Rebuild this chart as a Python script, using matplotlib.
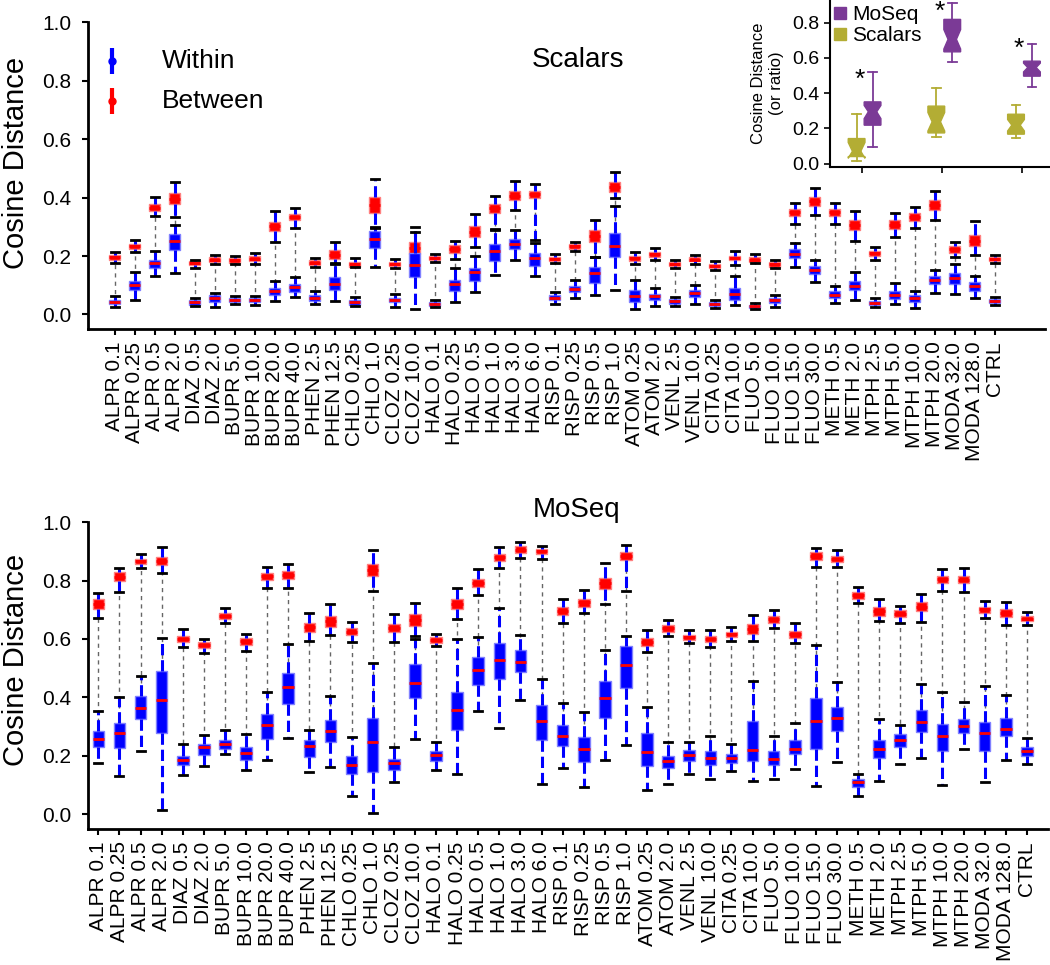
import matplotlib
matplotlib.use("Agg")
import matplotlib.pyplot as plt
from matplotlib.lines import Line2D

plt.rcParams['font.family'] = ['Liberation Sans', 'DejaVu Sans']

categories = [
    "ALPR 0.1", "ALPR 0.25", "ALPR 0.5", "ALPR 2.0", "DIAZ 0.5", "DIAZ 2.0",
    "BUPR 5.0", "BUPR 10.0", "BUPR 20.0", "BUPR 40.0", "PHEN 2.5", "PHEN 12.5",
    "CHLO 0.25", "CHLO 1.0", "CLOZ 0.25", "CLOZ 10.0", "HALO 0.1", "HALO 0.25",
    "HALO 0.5", "HALO 1.0", "HALO 3.0", "HALO 6.0", "RISP 0.1", "RISP 0.25",
    "RISP 0.5", "RISP 1.0", "ATOM 0.25", "ATOM 2.0", "VENL 2.5", "VENL 10.0",
    "CITA 0.25", "CITA 10.0", "FLUO 5.0", "FLUO 10.0", "FLUO 15.0", "FLUO 30.0",
    "METH 0.5", "METH 2.0", "MTPH 2.5", "MTPH 5.0", "MTPH 10.0", "MTPH 20.0",
    "MODA 32.0", "MODA 128.0", "CTRL",
]

# five-number summaries per category: (whisker low, q1, median, q3, whisker high)
scalars_within = [
    (0.027, 0.035, 0.043, 0.051, 0.062), (0.050, 0.084, 0.102, 0.116, 0.145),
    (0.132, 0.160, 0.176, 0.187, 0.216), (0.142, 0.219, 0.253, 0.276, 0.307),
    (0.029, 0.034, 0.041, 0.048, 0.056), (0.027, 0.042, 0.055, 0.067, 0.074),
    (0.037, 0.042, 0.050, 0.057, 0.063), (0.034, 0.041, 0.048, 0.057, 0.062),
    (0.045, 0.068, 0.081, 0.092, 0.113), (0.059, 0.076, 0.094, 0.105, 0.127),
    (0.037, 0.046, 0.056, 0.066, 0.080), (0.046, 0.084, 0.105, 0.128, 0.176),
    (0.029, 0.034, 0.042, 0.050, 0.059), (0.164, 0.228, 0.257, 0.284, 0.295),
    (0.027, 0.041, 0.050, 0.057, 0.071), (0.019, 0.128, 0.170, 0.210, 0.282),
    (0.025, 0.029, 0.037, 0.042, 0.048), (0.042, 0.080, 0.103, 0.119, 0.160),
    (0.078, 0.116, 0.145, 0.160, 0.199), (0.136, 0.182, 0.217, 0.242, 0.290),
    (0.187, 0.225, 0.241, 0.259, 0.288), (0.130, 0.166, 0.193, 0.211, 0.244),
    (0.037, 0.050, 0.058, 0.066, 0.078), (0.056, 0.076, 0.088, 0.099, 0.118),
    (0.068, 0.107, 0.142, 0.162, 0.196), (0.084, 0.196, 0.234, 0.279, 0.370),
    (0.018, 0.042, 0.063, 0.082, 0.118), (0.030, 0.048, 0.062, 0.071, 0.091),
    (0.029, 0.037, 0.045, 0.053, 0.061), (0.037, 0.059, 0.074, 0.084, 0.102),
    (0.023, 0.029, 0.037, 0.042, 0.048), (0.032, 0.050, 0.071, 0.091, 0.132),
    (0.018, 0.022, 0.029, 0.034, 0.039), (0.027, 0.039, 0.048, 0.056, 0.068),
    (0.162, 0.194, 0.208, 0.223, 0.245), (0.112, 0.137, 0.151, 0.167, 0.187),
    (0.040, 0.057, 0.068, 0.081, 0.097), (0.051, 0.082, 0.098, 0.114, 0.145),
    (0.027, 0.033, 0.040, 0.047, 0.055), (0.037, 0.054, 0.068, 0.081, 0.107),
    (0.021, 0.043, 0.056, 0.068, 0.080), (0.075, 0.103, 0.118, 0.132, 0.151),
    (0.071, 0.103, 0.126, 0.142, 0.174), (0.055, 0.080, 0.097, 0.110, 0.132),
    (0.033, 0.039, 0.046, 0.054, 0.059),
]
scalars_between = [
    (0.176, 0.185, 0.195, 0.204, 0.213), (0.212, 0.224, 0.233, 0.242, 0.256),
    (0.338, 0.354, 0.365, 0.378, 0.402), (0.333, 0.377, 0.394, 0.416, 0.452),
    (0.160, 0.168, 0.176, 0.183, 0.188), (0.172, 0.180, 0.188, 0.196, 0.204),
    (0.171, 0.176, 0.185, 0.193, 0.200), (0.171, 0.182, 0.190, 0.199, 0.210),
    (0.249, 0.285, 0.301, 0.316, 0.354), (0.295, 0.322, 0.333, 0.345, 0.365),
    (0.164, 0.169, 0.177, 0.185, 0.192), (0.174, 0.191, 0.205, 0.219, 0.247),
    (0.162, 0.164, 0.174, 0.180, 0.193), (0.300, 0.348, 0.375, 0.402, 0.463),
    (0.160, 0.167, 0.174, 0.180, 0.190), (0.190, 0.208, 0.228, 0.248, 0.299),
    (0.178, 0.185, 0.193, 0.200, 0.208), (0.191, 0.211, 0.225, 0.239, 0.253),
    (0.231, 0.265, 0.283, 0.301, 0.345), (0.291, 0.347, 0.363, 0.379, 0.405),
    (0.358, 0.390, 0.406, 0.422, 0.457), (0.256, 0.397, 0.411, 0.424, 0.447),
    (0.176, 0.183, 0.191, 0.197, 0.208), (0.217, 0.225, 0.233, 0.240, 0.247),
    (0.196, 0.247, 0.267, 0.288, 0.322), (0.397, 0.419, 0.436, 0.452, 0.489),
    (0.171, 0.183, 0.192, 0.201, 0.215), (0.186, 0.197, 0.207, 0.215, 0.229),
    (0.160, 0.166, 0.173, 0.180, 0.187), (0.174, 0.182, 0.188, 0.195, 0.204),
    (0.151, 0.159, 0.167, 0.174, 0.183), (0.169, 0.185, 0.193, 0.201, 0.217),
    (0.176, 0.180, 0.187, 0.195, 0.208), (0.160, 0.164, 0.172, 0.179, 0.185),
    (0.308, 0.336, 0.349, 0.362, 0.381), (0.339, 0.371, 0.387, 0.402, 0.434),
    (0.311, 0.336, 0.349, 0.362, 0.382), (0.253, 0.290, 0.306, 0.322, 0.353),
    (0.187, 0.199, 0.209, 0.218, 0.232), (0.265, 0.292, 0.307, 0.322, 0.348),
    (0.295, 0.321, 0.334, 0.348, 0.368), (0.324, 0.356, 0.373, 0.390, 0.424),
    (0.196, 0.211, 0.223, 0.234, 0.247), (0.202, 0.234, 0.253, 0.273, 0.321),
    (0.176, 0.182, 0.189, 0.196, 0.202),
]
moseq_within = [
    (0.176, 0.231, 0.257, 0.286, 0.354), (0.131, 0.226, 0.277, 0.314, 0.402),
    (0.215, 0.325, 0.365, 0.405, 0.474), (0.014, 0.279, 0.391, 0.489, 0.602),
    (0.135, 0.170, 0.185, 0.201, 0.240), (0.166, 0.203, 0.230, 0.241, 0.270),
    (0.208, 0.224, 0.239, 0.256, 0.290), (0.151, 0.187, 0.211, 0.230, 0.275),
    (0.187, 0.257, 0.307, 0.342, 0.417), (0.262, 0.379, 0.437, 0.482, 0.583),
    (0.146, 0.197, 0.233, 0.254, 0.289), (0.162, 0.246, 0.286, 0.322, 0.405),
    (0.064, 0.139, 0.170, 0.199, 0.265), (0.006, 0.145, 0.248, 0.330, 0.519),
    (0.111, 0.153, 0.174, 0.190, 0.231), (0.258, 0.398, 0.450, 0.514, 0.600),
    (0.150, 0.182, 0.203, 0.217, 0.247), (0.139, 0.288, 0.357, 0.417, 0.599),
    (0.354, 0.443, 0.493, 0.538, 0.607), (0.296, 0.463, 0.528, 0.587, 0.706),
    (0.390, 0.487, 0.521, 0.561, 0.614), (0.105, 0.256, 0.320, 0.373, 0.464),
    (0.160, 0.235, 0.267, 0.304, 0.381), (0.094, 0.179, 0.222, 0.265, 0.351),
    (0.187, 0.331, 0.399, 0.456, 0.561), (0.237, 0.431, 0.511, 0.577, 0.610),
    (0.083, 0.166, 0.214, 0.277, 0.366), (0.105, 0.157, 0.183, 0.198, 0.246),
    (0.139, 0.181, 0.203, 0.219, 0.247), (0.121, 0.170, 0.193, 0.216, 0.269),
    (0.149, 0.176, 0.193, 0.208, 0.242), (0.114, 0.183, 0.221, 0.320, 0.456),
    (0.122, 0.168, 0.190, 0.215, 0.269), (0.155, 0.206, 0.225, 0.256, 0.314),
    (0.097, 0.224, 0.320, 0.397, 0.578), (0.179, 0.286, 0.329, 0.366, 0.454),
    (0.063, 0.094, 0.109, 0.120, 0.137), (0.115, 0.194, 0.222, 0.254, 0.326),
    (0.173, 0.229, 0.254, 0.275, 0.304), (0.194, 0.280, 0.317, 0.357, 0.445),
    (0.101, 0.215, 0.267, 0.309, 0.417), (0.225, 0.277, 0.303, 0.325, 0.383),
    (0.110, 0.215, 0.277, 0.315, 0.440), (0.186, 0.267, 0.293, 0.331, 0.408),
    (0.173, 0.201, 0.217, 0.231, 0.261),
]
moseq_between = [
    (0.671, 0.702, 0.719, 0.736, 0.757), (0.761, 0.797, 0.813, 0.829, 0.842),
    (0.842, 0.857, 0.866, 0.875, 0.890), (0.825, 0.853, 0.867, 0.882, 0.915),
    (0.571, 0.589, 0.600, 0.611, 0.633), (0.551, 0.568, 0.578, 0.589, 0.599),
    (0.653, 0.667, 0.679, 0.689, 0.705), (0.560, 0.581, 0.592, 0.602, 0.618),
    (0.775, 0.801, 0.814, 0.826, 0.846), (0.775, 0.805, 0.819, 0.833, 0.856),
    (0.594, 0.625, 0.640, 0.654, 0.688), (0.613, 0.642, 0.661, 0.679, 0.720),
    (0.589, 0.614, 0.625, 0.637, 0.658), (0.763, 0.814, 0.835, 0.857, 0.905),
    (0.589, 0.623, 0.638, 0.651, 0.686), (0.610, 0.645, 0.665, 0.685, 0.723),
    (0.577, 0.587, 0.597, 0.607, 0.618), (0.669, 0.702, 0.720, 0.737, 0.776),
    (0.749, 0.777, 0.792, 0.806, 0.840), (0.843, 0.867, 0.880, 0.891, 0.915),
    (0.877, 0.894, 0.905, 0.917, 0.933), (0.875, 0.891, 0.900, 0.909, 0.919),
    (0.654, 0.682, 0.696, 0.710, 0.738), (0.690, 0.711, 0.725, 0.738, 0.766),
    (0.720, 0.770, 0.791, 0.810, 0.859), (0.763, 0.871, 0.885, 0.897, 0.920),
    (0.557, 0.576, 0.590, 0.603, 0.629), (0.610, 0.625, 0.637, 0.648, 0.665),
    (0.587, 0.598, 0.607, 0.614, 0.629), (0.574, 0.590, 0.600, 0.610, 0.630),
    (0.593, 0.608, 0.617, 0.625, 0.640), (0.593, 0.616, 0.634, 0.650, 0.682),
    (0.639, 0.656, 0.667, 0.678, 0.699), (0.585, 0.605, 0.616, 0.627, 0.654),
    (0.845, 0.870, 0.885, 0.899, 0.912), (0.845, 0.862, 0.873, 0.885, 0.905),
    (0.723, 0.737, 0.749, 0.760, 0.777), (0.663, 0.680, 0.695, 0.709, 0.738),
    (0.654, 0.675, 0.687, 0.698, 0.714), (0.659, 0.694, 0.711, 0.727, 0.754),
    (0.765, 0.793, 0.806, 0.817, 0.840), (0.762, 0.790, 0.803, 0.817, 0.842),
    (0.671, 0.690, 0.701, 0.711, 0.731), (0.648, 0.674, 0.688, 0.702, 0.728),
    (0.647, 0.661, 0.670, 0.678, 0.693),
]

# inset: ratio summaries for three groups, (lo, q1, med, q3, hi, notch lo, notch hi)
inset_scalars = [
    (0.015, 0.040, 0.070, 0.142, 0.280, 0.030, 0.120),
    (0.152, 0.174, 0.237, 0.326, 0.430, 0.185, 0.290),
    (0.148, 0.167, 0.218, 0.280, 0.330, 0.185, 0.250),
]
inset_moseq = [
    (0.095, 0.218, 0.294, 0.350, 0.517, 0.255, 0.330),
    (0.574, 0.634, 0.705, 0.818, 0.909, 0.650, 0.760),
    (0.436, 0.496, 0.545, 0.581, 0.678, 0.520, 0.570),
]
inset_star_y = [0.473, 0.858, 0.653]

BLUE = "#0000FF"
RED = "#FF0000"
PURPLE = "#7B3A96"
OLIVE = "#B3AD34"


def to_stats(rows):
    return [dict(whislo=r[0], q1=r[1], med=r[2], q3=r[3], whishi=r[4], fliers=[])
            for r in rows]


def draw_panel(ax, within, between):
    pos = list(range(len(categories)))
    # dashed grey link between the two groups
    ax.vlines(pos, [w[2] for w in within], [b[2] for b in between],
              colors="0.4", linestyles=(0, (3, 3)), lw=1, zorder=1)
    common = dict(positions=pos, widths=0.55, patch_artist=True, manage_ticks=False,
                  showfliers=False, capwidths=0.38,
                  whiskerprops=dict(color=BLUE, lw=2.2, linestyle="--"),
                  capprops=dict(color="black", lw=2))
    ax.bxp(to_stats(between), boxprops=dict(facecolor=RED, edgecolor="#FF8080", lw=1),
           medianprops=dict(color=RED, lw=2), zorder=2, **common)
    ax.bxp(to_stats(within), boxprops=dict(facecolor=BLUE, edgecolor="#8080FF", lw=1),
           medianprops=dict(color=RED, lw=2), zorder=3, **common)

    ax.set_xticks(pos)
    ax.set_xticklabels(categories, rotation=90, fontsize=15)
    ax.set_ylim(-0.05, 1.0)
    ax.set_yticks([0.0, 0.2, 0.4, 0.6, 0.8, 1.0])
    ax.set_yticklabels(["0.0", "0.2", "0.4", "0.6", "0.8", "1.0"], fontsize=15)
    ax.tick_params(axis="y", direction="out", length=4, width=1.5, pad=8)
    ax.tick_params(axis="x", direction="out", length=4, width=1.5, pad=5)
    ax.spines["top"].set_visible(False)
    ax.spines["right"].set_visible(False)
    ax.spines["left"].set_linewidth(2)
    ax.spines["bottom"].set_linewidth(2)
    ax.set_ylabel("Cosine Distance", fontsize=21)
    ax.yaxis.set_label_coords(-0.061, 0.54)


fig = plt.figure(figsize=(10.5, 9.65), dpi=100)

ax1 = fig.add_axes([0.0838, 0.659, 0.9114, 0.318])
draw_panel(ax1, scalars_within, scalars_between)
ax1.set_xlim(-1.35, 46.5)
ax1.text(0.512, 0.876, "Scalars", transform=ax1.transAxes, fontsize=20,
         ha="center", va="center")

# hand-made legend for within / between
ax1.errorbar([0.025], [0.873], yerr=[0.042], fmt="o", color=BLUE, ms=5, lw=3,
             capsize=0, transform=ax1.transAxes, clip_on=False)
ax1.errorbar([0.025], [0.743], yerr=[0.042], fmt="o", color=RED, ms=5, lw=3,
             capsize=0, transform=ax1.transAxes, clip_on=False)
ax1.text(0.077, 0.873, "Within", transform=ax1.transAxes, fontsize=19, va="center")
ax1.text(0.077, 0.743, "Between", transform=ax1.transAxes, fontsize=19, va="center")

ax2 = fig.add_axes([0.0838, 0.141, 0.9143, 0.318])
draw_panel(ax2, moseq_within, moseq_between)
ax2.set_xlim(-0.49, 45.0)
ax2.yaxis.set_label_coords(-0.060, 0.55)
ax2.text(0.509, 1.039, "MoSeq", transform=ax2.transAxes, fontsize=20,
         ha="center", va="center")

# inset summarising ratios
axi = fig.add_axes([0.790, 0.827, 0.2095, 0.173])
axi.patch.set_alpha(0)
groups = [1, 2, 3]
for rows, offset, col in [(inset_scalars, -0.07, OLIVE), (inset_moseq, 0.13, PURPLE)]:
    stats = [dict(whislo=r[0], q1=r[1], med=r[2], q3=r[3], whishi=r[4],
                  cilo=r[5], cihi=r[6], fliers=[]) for r in rows]
    axi.bxp(stats, positions=[g + offset for g in groups], widths=0.21,
            patch_artist=True, shownotches=True, showfliers=False, manage_ticks=False,
            capwidths=0.11,
            boxprops=dict(facecolor=col, edgecolor=col, lw=1),
            medianprops=dict(color=col, lw=1),
            whiskerprops=dict(color=col, lw=1.3),
            capprops=dict(color=col, lw=1.3))
for g, sy in zip(groups, inset_star_y):
    axi.text(g - 0.03, sy, "*", fontsize=19, ha="center", va="center")

axi.set_xlim(0.59, 3.35)
axi.set_ylim(-0.019, 0.928)
axi.set_xticks(groups)
axi.set_xticklabels([])
axi.set_yticks([0.0, 0.2, 0.4, 0.6, 0.8])
axi.set_yticklabels(["0.0", "0.2", "0.4", "0.6", "0.8"], fontsize=14)
axi.tick_params(direction="out", length=4, width=1.2)
axi.spines["top"].set_visible(False)
axi.spines["right"].set_visible(False)
axi.spines["left"].set_linewidth(1.5)
axi.spines["bottom"].set_linewidth(1.5)
axi.set_ylabel("Cosine Distance\n(or ratio)", fontsize=12, labelpad=6)

handles = [Line2D([], [], marker="s", ls="none", color=PURPLE, ms=8),
           Line2D([], [], marker="s", ls="none", color=OLIVE, ms=8)]
axi.legend(handles, ["MoSeq", "Scalars"], loc="upper left", bbox_to_anchor=(-0.03, 1.02),
           frameon=False, fontsize=15, handletextpad=0.2, borderaxespad=0,
           handlelength=0.8, labelspacing=0.1)

fig.savefig("out.png", dpi=100)
